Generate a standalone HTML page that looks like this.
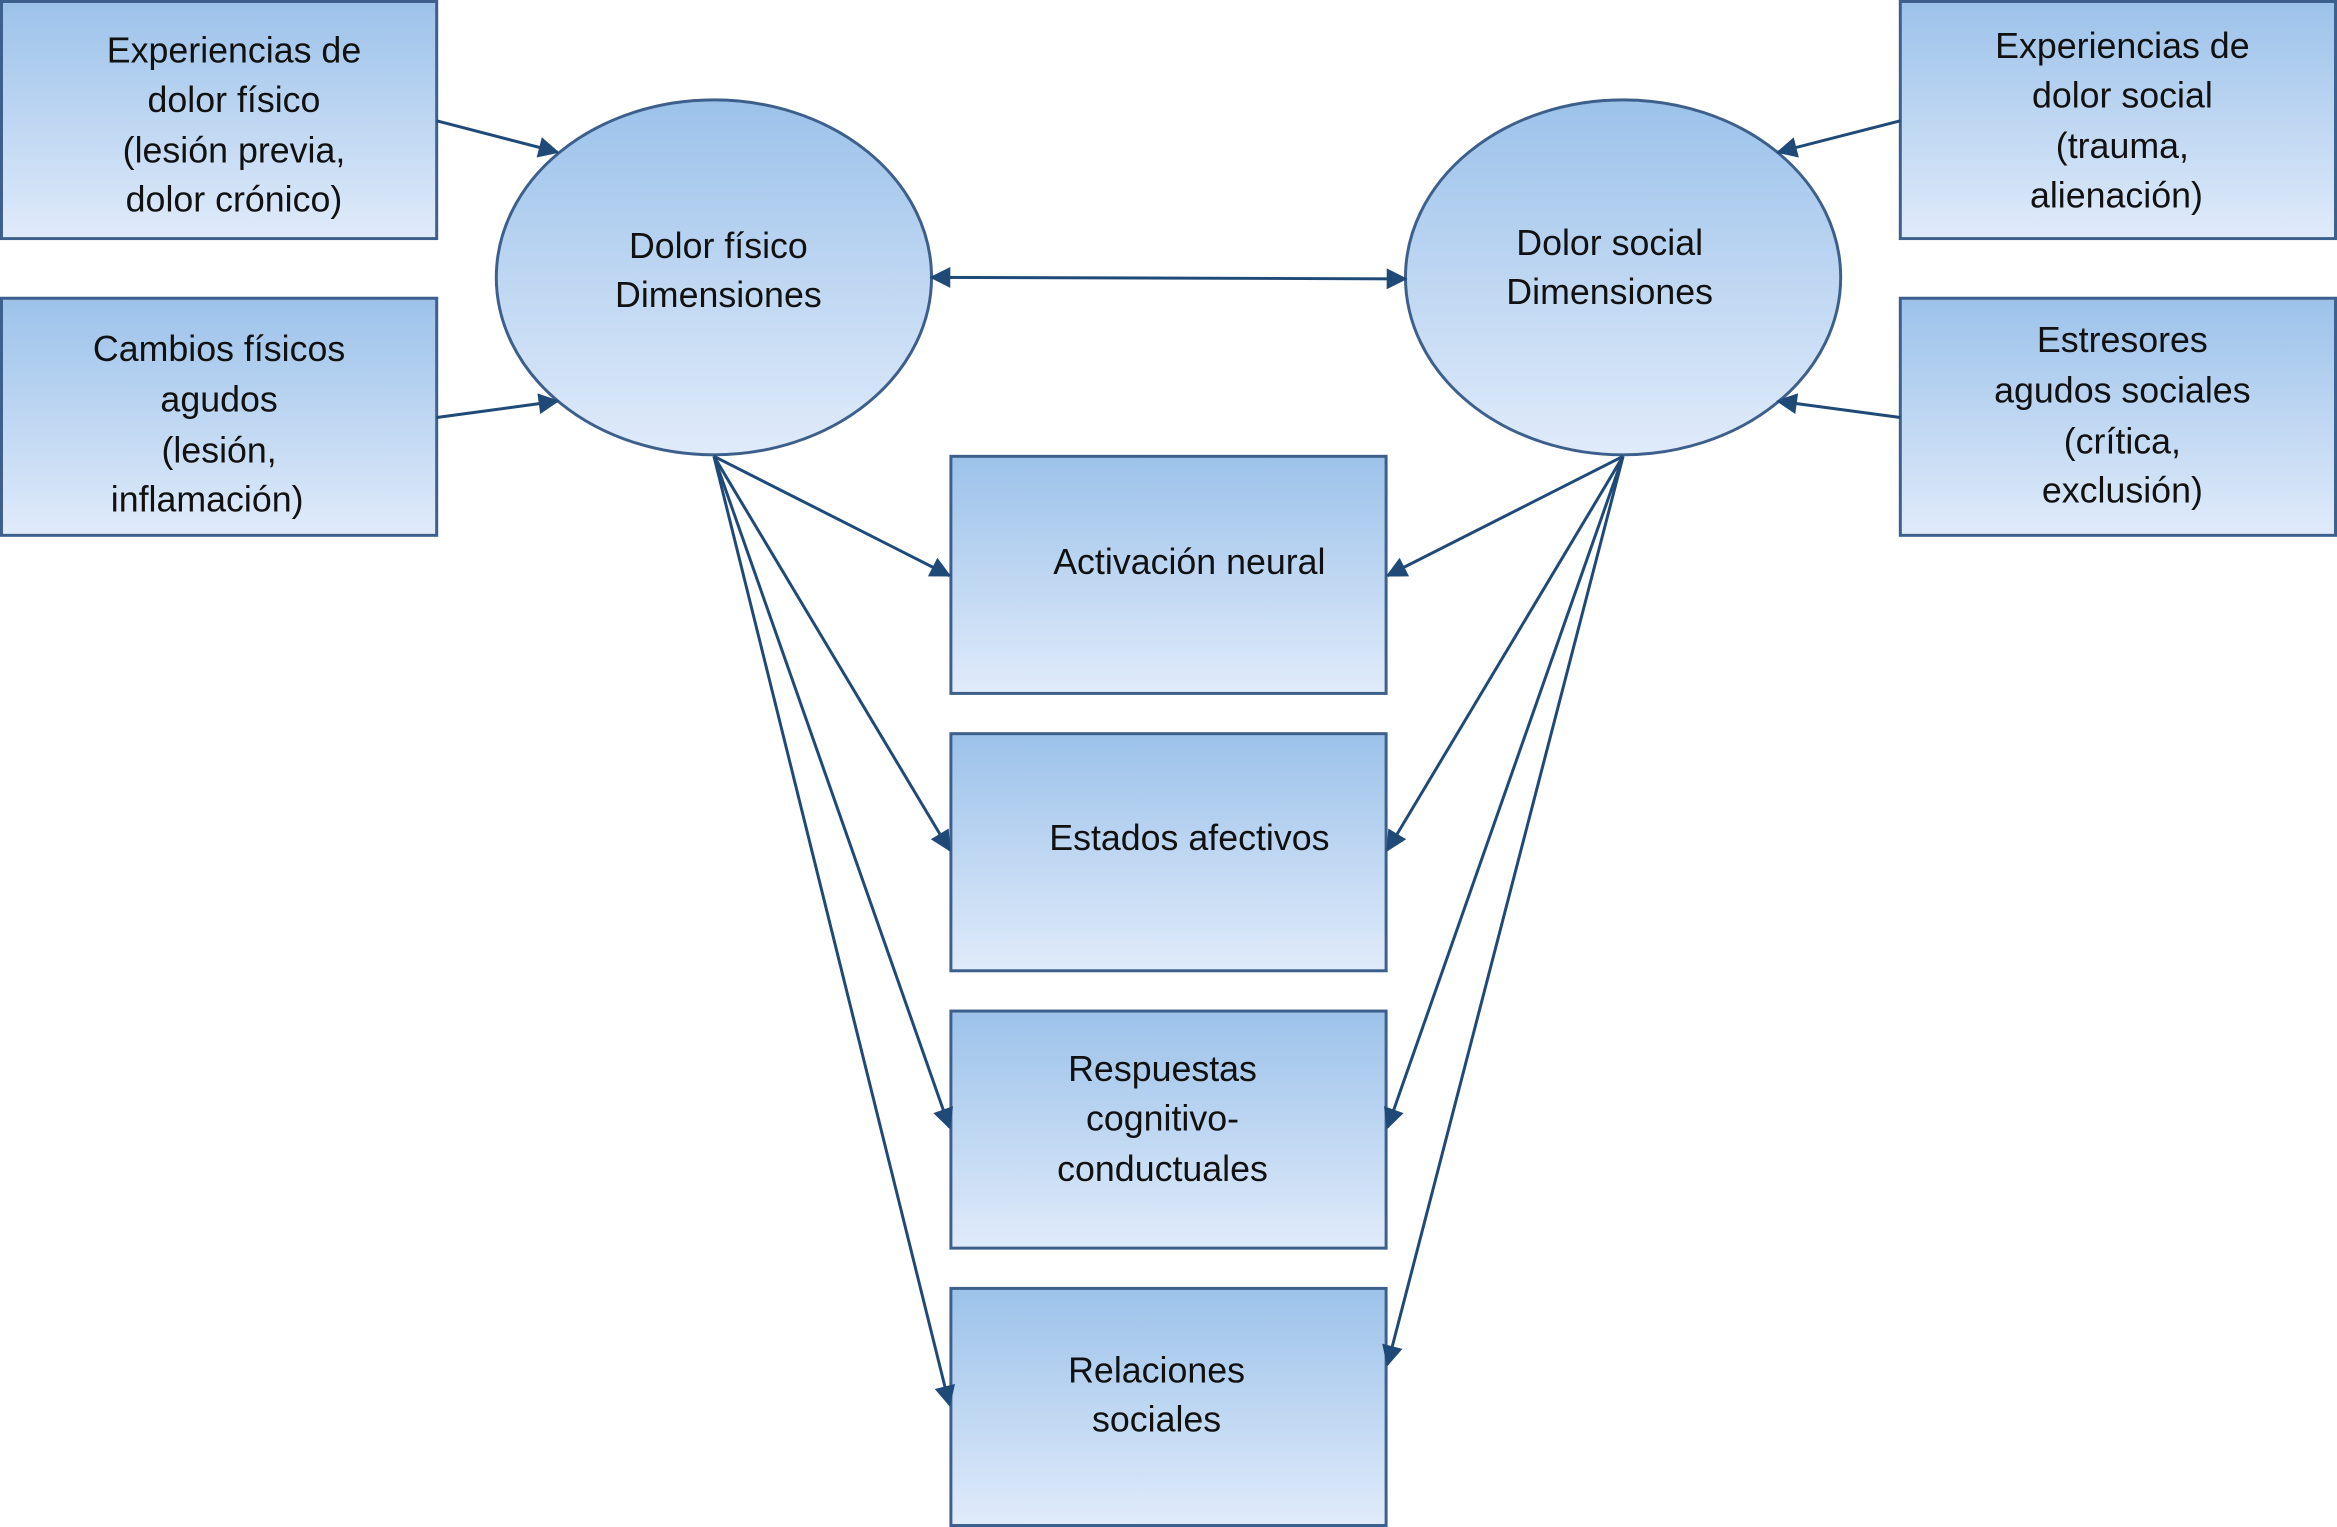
<!DOCTYPE html>
<html><head><meta charset="utf-8"><style>
html,body{margin:0;padding:0;background:#fff;}
svg{display:block;}
text{font-family:"Liberation Sans",Arial,sans-serif;font-size:24px;fill:#111;text-anchor:middle;}
</style></head><body>
<svg width="2337" height="1527" viewBox="0 0 1568 1024" preserveAspectRatio="none" xmlns="http://www.w3.org/2000/svg">
<defs>
<linearGradient id="g" x1="0" y1="0" x2="0" y2="1">
<stop offset="0" stop-color="#9cc2ea"/><stop offset="1" stop-color="#e0ebfa"/>
</linearGradient>
<marker id="a" viewBox="0 0 10 10" refX="9" refY="5" markerWidth="9" markerHeight="9" markerUnits="userSpaceOnUse" orient="auto-start-reverse">
<path d="M0,0 L10,5 L0,10 z" fill="#1f4a78"/>
</marker>
<marker id="b" viewBox="0 0 10 10" refX="9" refY="5" markerWidth="16" markerHeight="14" markerUnits="userSpaceOnUse" orient="auto-start-reverse">
<path d="M0,0 L10,5 L0,10 z" fill="#1f4a78"/>
</marker>
</defs>
<g fill="url(#g)" stroke="#3d5f8c" stroke-width="2">
<rect x="1" y="1" width="292" height="159"/>
<rect x="1" y="200" width="292" height="159"/>
<rect x="1275" y="1" width="292" height="159"/>
<rect x="1275" y="200" width="292" height="159"/>
<ellipse cx="479" cy="186" rx="146" ry="119"/>
<ellipse cx="1089" cy="186" rx="146" ry="119"/>
<rect x="638" y="306" width="292" height="159"/>
<rect x="638" y="492" width="292" height="159"/>
<rect x="638" y="678" width="292" height="159"/>
<rect x="638" y="864" width="292" height="159"/>
</g>
<g stroke="#1f4a78" stroke-width="2" fill="none" marker-end="url(#b)">
<line x1="293" y1="81" x2="374" y2="102"/>
<line x1="293" y1="280" x2="374" y2="269"/>
<line x1="1275" y1="81" x2="1193" y2="102"/>
<line x1="1275" y1="280" x2="1193" y2="269"/>
<line x1="625" y1="186" x2="943" y2="187" marker-start="url(#b)"/>
<line x1="479" y1="306" x2="637" y2="386"/>
<line x1="479" y1="306" x2="637" y2="570"/>
<line x1="479" y1="306" x2="637" y2="756"/>
<line x1="479" y1="306" x2="637" y2="942"/>
<line x1="1089" y1="306" x2="931" y2="386"/>
<line x1="1089" y1="306" x2="931" y2="570"/>
<line x1="1089" y1="306" x2="931" y2="756"/>
<line x1="1089" y1="306" x2="931" y2="915"/>
</g>
<text x="157" y="42">Experiencias de</text>
<text x="157" y="75">dolor físico</text>
<text x="157" y="109">(lesión previa,</text>
<text x="157" y="142">dolor crónico)</text>
<text x="147" y="242">Cambios físicos</text>
<text x="147" y="276">agudos</text>
<text x="147" y="310">(lesión,</text>
<text x="139" y="343">inflamación)</text>
<text x="1424" y="39">Experiencias de</text>
<text x="1424" y="72">dolor social</text>
<text x="1424" y="106">(trauma,</text>
<text x="1420" y="139">alienación)</text>
<text x="1424" y="236">Estresores</text>
<text x="1424" y="270">agudos sociales</text>
<text x="1424" y="304">(crítica,</text>
<text x="1424" y="337">exclusión)</text>
<text x="482" y="173">Dolor físico</text>
<text x="482" y="206">Dimensiones</text>
<text x="1080" y="171">Dolor social</text>
<text x="1080" y="204">Dimensiones</text>
<text x="798" y="385">Activación neural</text>
<text x="798" y="570">Estados afectivos</text>
<text x="780" y="725">Respuestas</text>
<text x="780" y="758">cognitivo-</text>
<text x="780" y="792">conductuales</text>
<text x="776" y="927">Relaciones</text>
<text x="776" y="960">sociales</text>
</svg>
</body></html>
